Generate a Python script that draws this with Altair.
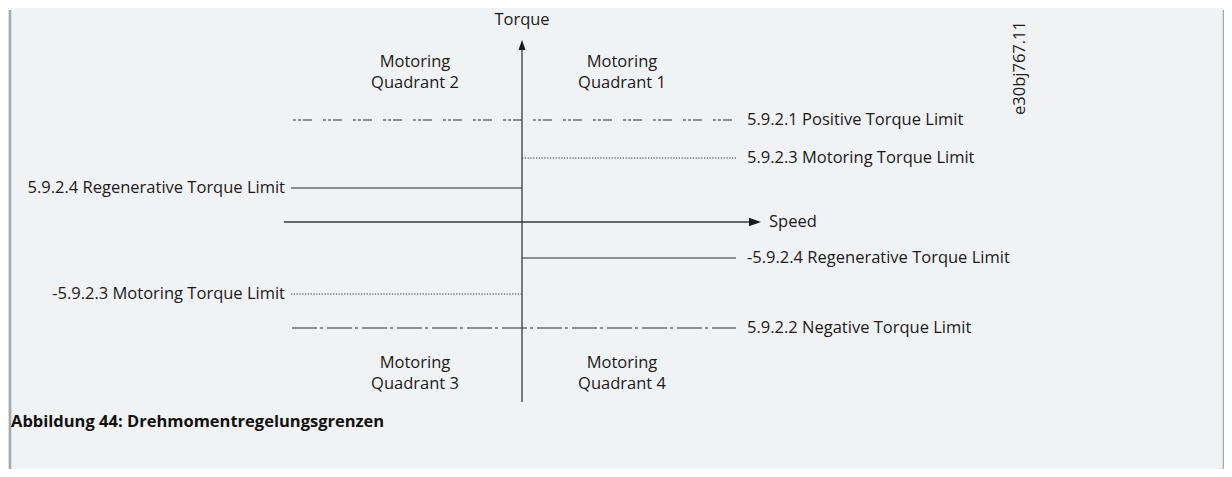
import altair as alt
import pandas as pd

# ---- data (diagram units: speed on x, torque on y) ----
limit_names = ["pos", "mot", "regen", "negregen", "negmot", "neg"]
limit_styles = ["dashdotdot", "dotted", "solid", "solid", "dotted", "dashdot"]
limit_torque = [1.02, 0.64, 0.34, -0.36, -0.72, -1.06]
limit_x_start = [-2.29, 0.0, -2.31, 0.0, -2.31, -2.30]
limit_x_end = [2.14, 2.14, 0.0, 2.14, 0.0, 2.14]

right_labels = ["5.9.2.1 Positive Torque Limit", "5.9.2.3 Motoring Torque Limit",
                "-5.9.2.4 Regenerative Torque Limit", "5.9.2.2 Negative Torque Limit"]
right_label_torque = [1.02, 0.64, -0.36, -1.06]
left_labels = ["5.9.2.4 Regenerative Torque Limit", "-5.9.2.3 Motoring Torque Limit"]
left_label_torque = [0.34, -0.72]

quad_labels = ["Motoring\nQuadrant 2", "Motoring\nQuadrant 1",
               "Motoring\nQuadrant 3", "Motoring\nQuadrant 4"]
quad_x = [-1.07, 1.00, -1.07, 1.00]
quad_y = [1.60, 1.60, -1.41, -1.41]

speed_axis = [-2.38, 2.30]
torque_axis = [-1.80, 1.76]

caption = "Abbildung 44: Drehmomentregelungsgrenzen"
doc_id = "e30bj767.11"

# ---- scales ----
W, H = 1216, 461
xs = alt.Scale(domain=[-5.13, 7.03], range=[0, W], nice=False, zero=False)
ys = alt.Scale(domain=[-2.49, 2.12], range=[H, 0], nice=False, zero=False)
FONT = "Open Sans"
FS = 16.5
INK = "#1a1a1a"
LINE = "#2b2b2b"


def X(f):
    return alt.X(f, type="quantitative", scale=xs, axis=None)


def Y(f):
    return alt.Y(f, type="quantitative", scale=ys, axis=None)


limits = pd.DataFrame({"name": limit_names, "style": limit_styles, "y": limit_torque,
                       "x": limit_x_start, "x2": limit_x_end})

dash_domain = ["solid", "dotted", "dashdot", "dashdotdot"]
dash_range = [[1, 0], [1.2, 1.6], [25, 3, 3, 4], [3, 2, 3, 2, 9, 11]]

limit_lines = alt.Chart(limits).mark_rule(strokeWidth=1.2, color=LINE).encode(
    x=X("x"), x2="x2", y=Y("y"),
    strokeDash=alt.StrokeDash("style:N", scale=alt.Scale(domain=dash_domain, range=dash_range), legend=None),
)

axes_df = pd.DataFrame({
    "x": [speed_axis[0], 0.0], "x2": [speed_axis[1], 0.0],
    "y": [0.0, torque_axis[0]], "y2": [0.0, torque_axis[1]],
})
axes_lines = alt.Chart(axes_df).mark_rule(strokeWidth=1.3, color="#3a3a3a").encode(
    x=X("x"), x2="x2", y=Y("y"), y2="y2")

arrow_up = alt.Chart(pd.DataFrame({"x": [0.0], "y": [1.77]})).mark_point(
    shape="M0,-1L0.7,1L-0.7,1Z", size=100, filled=True, color="#1a1a1a", opacity=1
).encode(x=X("x"), y=Y("y"))
arrow_right = alt.Chart(pd.DataFrame({"x": [2.33], "y": [0.0]})).mark_point(
    shape="M1,0L-1,-0.7L-1,0.7Z", size=144, filled=True, color="#1a1a1a", opacity=1
).encode(x=X("x"), y=Y("y"))

rl = pd.DataFrame({"t": right_labels, "y": right_label_torque, "x": [2.25] * len(right_labels)})
ll = pd.DataFrame({"t": left_labels, "y": left_label_torque, "x": [-2.37] * len(left_labels)})
right_text = alt.Chart(rl).mark_text(align="left", baseline="middle", font=FONT, fontSize=FS, color=INK).encode(
    x=X("x"), y=Y("y"), text="t")
left_text = alt.Chart(ll).mark_text(align="right", baseline="middle", font=FONT, fontSize=FS, color=INK).encode(
    x=X("x"), y=Y("y"), text="t")

qd = pd.DataFrame({"t": quad_labels, "x": quad_x, "y": quad_y})
quad_text = alt.Chart(qd).mark_text(align="center", baseline="middle", font=FONT, fontSize=FS,
                                    lineHeight=21, lineBreak="\n", color=INK).encode(
    x=X("x"), y=Y("y"), text="t")

axis_titles = pd.DataFrame({"t": ["Torque"], "x": [0.0], "y": [2.02]})
torque_text = alt.Chart(axis_titles).mark_text(align="center", baseline="middle", font=FONT, fontSize=FS,
                                               color=INK).encode(x=X("x"), y=Y("y"), text="t")
speed_text = alt.Chart(pd.DataFrame({"t": ["Speed"], "x": [2.47], "y": [0.0]})).mark_text(
    align="left", baseline="middle", font=FONT, fontSize=FS, color=INK).encode(x=X("x"), y=Y("y"), text="t")

id_text = alt.Chart(pd.DataFrame({"t": [doc_id], "x": [4.98], "y": [1.54]})).mark_text(
    align="center", baseline="middle", angle=270, font=FONT, fontSize=FS, color=INK).encode(
    x=X("x"), y=Y("y"), text="t")

cap_text = alt.Chart(pd.DataFrame({"t": [caption], "x": [-5.11], "y": [-2.00]})).mark_text(
    align="left", baseline="middle", font=FONT, fontSize=16.5, fontWeight="bold", color="#111111").encode(
    x=X("x"), y=Y("y"), text="t")

border = alt.Chart(pd.DataFrame({"k": [0]})).mark_rule(color="#a4a9af", strokeWidth=2.5).encode(
    x=alt.value(1), y=alt.value(0), y2=alt.value(H))
border_r = alt.Chart(pd.DataFrame({"k": [0]})).mark_rule(color="#a4a9af", strokeWidth=2.5).encode(
    x=alt.value(W - 1), y=alt.value(0), y2=alt.value(H))

chart = alt.layer(
    border, border_r, limit_lines, axes_lines, arrow_up, arrow_right,
    right_text, left_text, quad_text, torque_text, speed_text, id_text, cap_text,
).properties(
    width=W, height=H,
    autosize=alt.AutoSizeParams(type="fit", contains="padding"),
    padding=0,
    background="#f1f2f4",
).configure_view(stroke=None)

chart.save("out.html", embed_options={"renderer": "svg", "actions": False})
